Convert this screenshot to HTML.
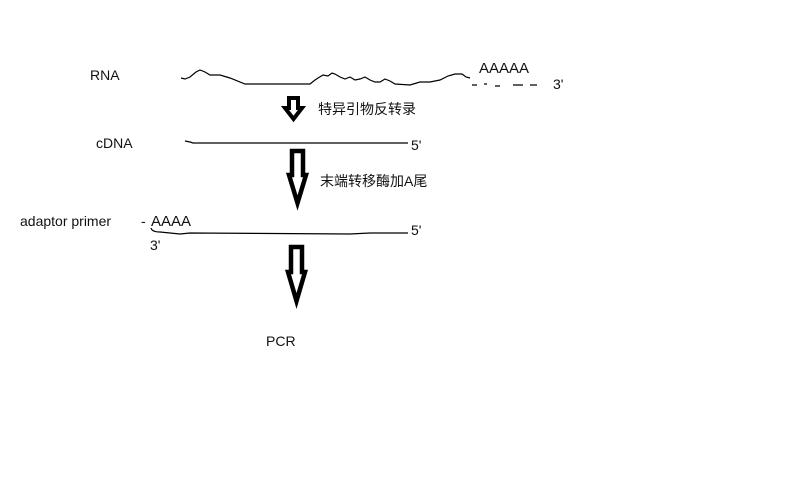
<!DOCTYPE html>
<html><head><meta charset="utf-8"><style>
body{margin:0;background:#fff;}
svg{display:block}
text{font-family:"Liberation Sans","Noto Sans CJK SC",sans-serif;font-size:14px;fill:#111}
</style></head><body>
<svg width="788" height="497" viewBox="0 0 788 497">
<text x="90" y="80">RNA</text>
<path d="M181,78 L185,79 L190,77 L196,72 L200,70 L205,72 L210,75 L220,75 L230,78 L245,84 L310,84 L315,80 L318,78 L323,75 L328,76 L332,73 L335,74 L340,77 L345,79 L350,77 L355,80 L360,79 L365,77 L370,80 L375,82 L380,82 L385,79 L390,81 L395,84 L410,85 L420,82 L430,82 L440,80 L448,76 L455,74 L462,74 L466,77 L470,78" fill="none" stroke="#000" stroke-width="1.2"/>
<path d="M472,85 L477,85 M484,84 L487,84 M495,86 L500,86 M513,85 L523,85 M530,85 L537,85" stroke="#000" stroke-width="1.2"/>
<text x="479" y="73" style="font-size:15px">AAAAA</text>
<text x="553" y="89">3'</text>
<path d="M289,98 h9 v10 h4 l-8.5,11 l-8.5,-11 h4 z" fill="none" stroke="#000" stroke-width="4" stroke-linejoin="miter"/>
<text x="318" y="114">特异引物反转录</text>
<text x="96" y="148">cDNA</text>
<path d="M185,141 L190,142 L193,143 L408,143" fill="none" stroke="#000" stroke-width="1.2"/>
<text x="411" y="150">5'</text>
<path d="M292,151 h11 v24 h3 l-8.5,28 l-8.5,-28 h3 z" fill="none" stroke="#000" stroke-width="4.5"/>
<text x="320" y="186">末端转移酶加A尾</text>
<text x="20" y="226">adaptor primer</text>
<text x="141" y="226">-</text>
<text x="151" y="226" style="font-size:15px">AAAA</text>
<path d="M151,228 Q152,232 160,232 L180,234 L190,233 L350,234 L370,233 L408,233" fill="none" stroke="#000" stroke-width="1.2"/>
<text x="411" y="235">5'</text>
<text x="150" y="250">3'</text>
<path d="M291,247 h11 v25 h3 l-8.5,29 l-8.5,-29 h3 z" fill="none" stroke="#000" stroke-width="4.5"/>
<text x="266" y="346">PCR</text>
</svg>
</body></html>
